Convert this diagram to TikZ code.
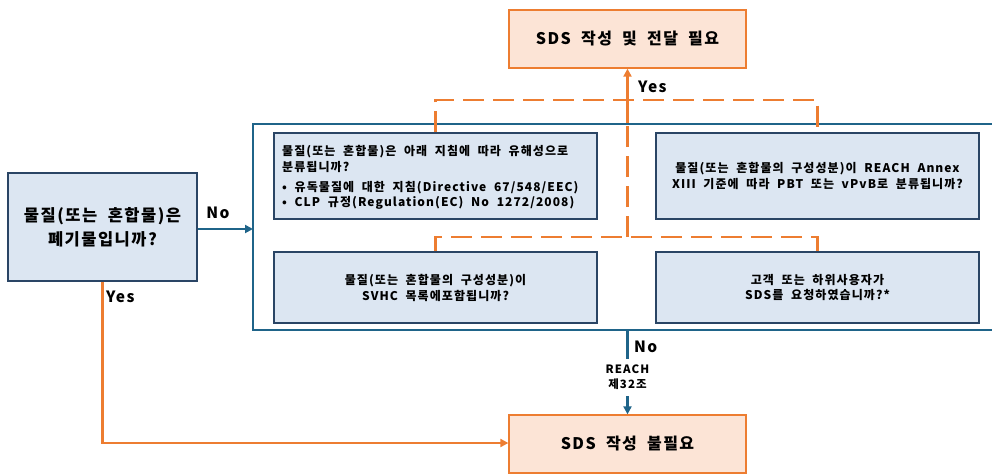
\documentclass[tikz,border=0pt]{standalone}
\usepackage{fontspec}
\setmainfont{Noto Sans CJK KR}[LetterSpace=9,WordSpace=2]
\usetikzlibrary{arrows.meta}
\definecolor{frameblue}{HTML}{1F6489}
\definecolor{boxline}{HTML}{2A4565}
\definecolor{boxfill}{HTML}{DCE6F2}
\definecolor{orng}{HTML}{ED7D31}
\definecolor{orfill}{HTML}{FCE4D6}
\tikzset{
  qbox/.style={draw=boxline, line width=1.3pt, fill=boxfill, minimum width=323pt, minimum height=86pt, inner sep=0pt, align=center, font=\bfseries\fontsize{12}{16}\selectfont},
  rbox/.style={draw=orng, line width=1.3pt, fill=orfill, minimum width=237pt, minimum height=58pt, inner sep=0pt, align=center, font=\bfseries\fontsize{16}{20}\selectfont},
  lbl/.style={font=\bfseries\fontsize{15.5}{18}\selectfont, inner sep=0pt},
  bline/.style={draw=frameblue, line width=2.4pt},
  oline/.style={draw=orng, line width=2.4pt},
  odash/.style={draw=orng, line width=2.4pt, dash pattern=on 21pt off 9pt},
  barrow/.style={bline, -{Triangle[length=8pt,width=8pt]}},
  oarrow/.style={oline, -{Triangle[length=8pt,width=8pt]}},
}
\begin{document}
\begin{tikzpicture}[x=1pt,y=-1pt]
\useasboundingbox (0,0) rectangle (992,474);
% result boxes
\node[rbox] (top) at (627.5,39) {SDS 작성 및 전달 필요};
\node[rbox] (bot) at (627.5,444) {SDS 작성 불필요};
% left question
\node[draw=boxline, line width=1.3pt, fill=boxfill, minimum width=189pt, minimum height=108pt, inner sep=0pt, align=center, font=\bfseries\fontsize{16.5}{24}\selectfont] (waste) at (102.5,227) {물질(또는 혼합물)은\\폐기물입니까?};
% frame
\coordinate (ftr) at (992,124);
\coordinate (ftl) at (253,124);
\coordinate (fbl) at (253,330);
\coordinate (fbr) at (992,330);
\draw[bline] (ftr) -- (ftl) -- (fbl) -- (fbr);
% inner boxes
\node[qbox, minimum height=86pt] (q1) at (435.5,176) {};
\node[font=\bfseries\fontsize{12}{16}\selectfont, anchor=north west, align=left, inner sep=0pt] (q1t) at (282,145) {물질(또는 혼합물)은 아래 지침에 따라 유해성으로\\분류됩니까?};
\node[font=\bfseries\fontsize{12}{15.5}\selectfont, anchor=north west, align=left, inner sep=0pt] (q1b) at (282,181) {• 유독물질에 대한 지침(Directive 67/548/EEC)\\• CLP 규정(Regulation(EC) No 1272/2008)};
\node[qbox] (q2) at (817.5,176) {물질(또는 혼합물의 구성성분)이 REACH Annex\\XIII 기준에 따라 PBT 또는 vPvB로 분류됩니까?};
\node[qbox, minimum height=71pt] (q3) at (435.5,287.5) {물질(또는 혼합물의 구성성분)이\\SVHC 목록에포함됩니까?};
\node[qbox, minimum height=71pt] (q4) at (817.5,287.5) {고객 또는 하위사용자가\\SDS를 요청하였습니까?*};
% dashed connectors
\coordinate (d1) at (435.5,100);
\coordinate (d2) at (817.5,100);
\coordinate (d3) at (435.5,237);
\coordinate (d4) at (817.5,237);
\coordinate (dc) at (627.5,237);
\coordinate (ds) at (627.5,123);
\draw[odash] (q1.north) -- (d1) -- (d2) -- (q2.north);
\draw[odash] (q3.north) -- (d3) -- (d4) -- (q4.north);
\draw[odash] (dc) -- (ds);
\draw[oarrow] (ds) -- (top.south);
\node[lbl, anchor=west] (yes1) at (638,87) {Yes};
% No from waste
\draw[barrow] (waste.east |- 0,229) -- (ftl |- 0,229);
\node[lbl] (no1) at (218,213) {No};
% Yes from waste
\coordinate (yc) at (102.5,443);
\draw[oarrow] (waste.south) -- (yc) -- (bot.west |- yc);
\node[lbl, anchor=west] (yes2) at (106,297) {Yes};
% bottom No
\node[font=\bfseries\fontsize{11.5}{15}\selectfont, align=center, inner sep=1pt] (reach) at (627.5,377) {REACH\\제32조};
\draw[bline] (627.5,330) -- (627.5,359);
\draw[barrow] (627.5,396) -- (bot.north);
\node[lbl, anchor=west] (no2) at (634,347) {No};
\end{tikzpicture}
\end{document}
